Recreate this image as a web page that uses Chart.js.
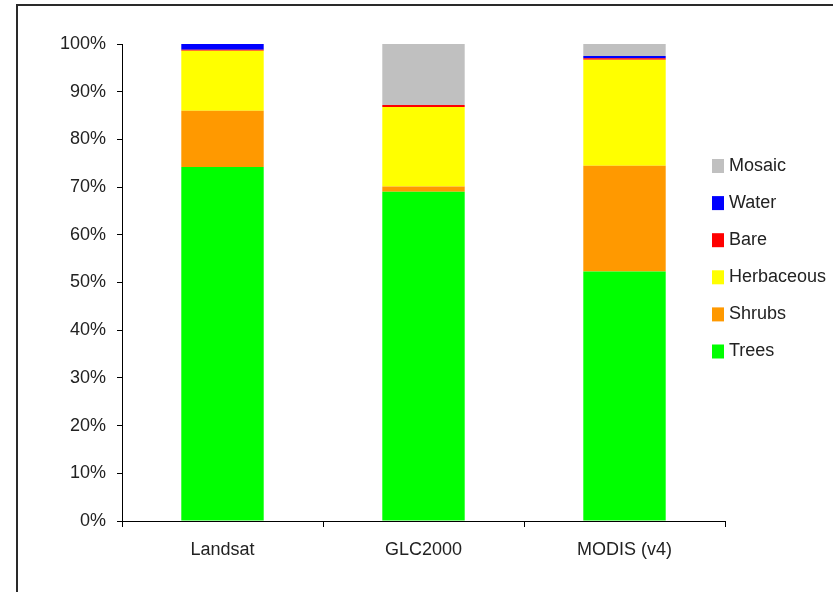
<!DOCTYPE html>
<html>
<head>
<meta charset="utf-8">
<title>Land cover composition</title>
<script src="https://cdn.jsdelivr.net/npm/chart.js@4"></script>
<style>
  html, body { margin: 0; padding: 0; background: #fff; }
  #wrap { position: relative; width: 833px; height: 592px; overflow: hidden; }
  #frame { position: absolute; left: 16px; top: 4px; width: 900px; height: 700px;
           border-left: 2px solid #2a2a2a; border-top: 2px solid #2a2a2a; box-sizing: border-box; }
  canvas { position: absolute; left: 0; top: 0; }
</style>
</head>
<body>
<div id="wrap">
  <canvas id="chart" width="833" height="592"></canvas>
  <div id="frame"></div>
</div>
<script>
// ---- data (percent of area) ----
var categories = ['Landsat', 'GLC2000', 'MODIS (v4)'];
var trees      = [74.2, 69.0, 52.3];
var shrubs     = [11.8,  1.1, 22.2];
var herbaceous = [12.6, 16.7, 22.2];
var bare       = [ 0.2,  0.4,  0.3];
var water      = [ 1.2,  0.0,  0.5];
var mosaic     = [ 0.0, 12.8,  2.5];

var FONT = '"Liberation Sans", Arial, sans-serif';

function ds(label, data, color) {
  return { label: label, data: data, backgroundColor: color, borderWidth: 0,
           categoryPercentage: 1.0, barPercentage: 0.41 };
}

// legend drawn at fixed spot, top entry = last dataset
var sideLegend = {
  id: 'sideLegend',
  afterDraw: function(chart) {
    var ctx = chart.ctx;
    var sets = chart.data.datasets;
    ctx.save();
    ctx.font = '18px ' + FONT;
    ctx.textBaseline = 'middle';
    ctx.textAlign = 'left';
    for (var i = 0; i < sets.length; i++) {
      var s = sets[sets.length - 1 - i];
      var cy = 166 + i * 37.1;
      ctx.fillStyle = s.backgroundColor;
      ctx.fillRect(712, cy - 7, 12, 14);
      ctx.fillStyle = '#222';
      ctx.fillText(s.label, 729, cy);
    }
    ctx.restore();
  }
};

new Chart(document.getElementById('chart').getContext('2d'), {
  type: 'bar',
  data: {
    labels: categories,
    datasets: [
      ds('Trees', trees, '#00ff00'),
      ds('Shrubs', shrubs, '#ff9900'),
      ds('Herbaceous', herbaceous, '#ffff00'),
      ds('Bare', bare, '#ff0000'),
      ds('Water', water, '#0000ff'),
      ds('Mosaic', mosaic, '#c0c0c0')
    ]
  },
  options: {
    responsive: false, animation: false,
    layout: { padding: { left: 0, top: 44, right: 108, bottom: 0 } },
    plugins: { legend: { display: false }, tooltip: { enabled: false } },
    scales: {
      x: {
        stacked: true,
        afterFit: function(s) { s.height = 71; },
        grid: { drawOnChartArea: false, drawTicks: true, tickLength: 6, color: '#000', offset: true },
        border: { color: '#000', width: 1 },
        ticks: { color: '#222', font: { family: FONT, size: 18 }, padding: 12 }
      },
      y: {
        stacked: true, min: 0, max: 100,
        afterFit: function(s) { s.width = 122; },
        grid: { drawOnChartArea: false, drawTicks: true, tickLength: 5, color: '#000' },
        border: { color: '#000', width: 1 },
        ticks: { stepSize: 10, color: '#222', font: { family: FONT, size: 18 }, padding: 11,
                 callback: function(v) { return v + '%'; } }
      }
    }
  },
  plugins: [sideLegend]
});
</script>
</body>
</html>
